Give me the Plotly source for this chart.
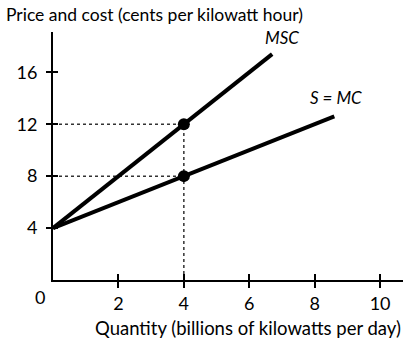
import plotly.graph_objects as go

# Data
msc_x = [0, 6.7]
msc_y = [4, 17.4]
mc_x = [0, 8.6]
mc_y = [4, 12.6]
eq_x = [4, 4]
eq_y = [12, 8]
x_ticks = [2, 4, 6, 8, 10]
y_ticks = [4, 8, 12, 16]

FONT = "Lato, 'Open Sans', sans-serif"
fig = go.Figure()

# dotted guides
fig.add_trace(go.Scatter(x=[0, eq_x[0]], y=[eq_y[0], eq_y[0]], mode="lines",
                         line=dict(color="#333", width=1.5, dash="dot"), hoverinfo="skip"))
fig.add_trace(go.Scatter(x=[0, eq_x[1]], y=[eq_y[1], eq_y[1]], mode="lines",
                         line=dict(color="#333", width=1.5, dash="dot"), hoverinfo="skip"))
fig.add_trace(go.Scatter(x=[eq_x[0], eq_x[0]], y=[0, eq_y[0]], mode="lines",
                         line=dict(color="#333", width=1.5, dash="dot"), hoverinfo="skip"))

# curves
fig.add_trace(go.Scatter(x=msc_x, y=msc_y, mode="lines", line=dict(color="black", width=4)))
fig.add_trace(go.Scatter(x=mc_x, y=mc_y, mode="lines", line=dict(color="black", width=4)))
fig.add_trace(go.Scatter(x=eq_x, y=eq_y, mode="markers", marker=dict(color="black", size=12)))

# invisible trace on overlay axes to draw crossing ticks
fig.add_trace(go.Scatter(x=[0], y=[0], xaxis="x2", yaxis="y2", mode="markers",
                         marker=dict(opacity=0), hoverinfo="skip"))

fig.update_layout(
    width=410, height=340,
    margin=dict(l=53, r=7, t=32, b=60),
    paper_bgcolor="white", plot_bgcolor="white",
    showlegend=False,
    font=dict(family=FONT, size=17, color="black"),
    xaxis=dict(range=[0, 10.7], tickvals=x_ticks, ticks="outside", ticklen=6, tickwidth=1.5,
               tickcolor="black", showgrid=False, zeroline=False, showline=True,
               linecolor="black", linewidth=2, tickfont=dict(size=18), fixedrange=True),
    yaxis=dict(range=[0, 19.1], tickvals=y_ticks, ticks="outside", ticklen=5, tickwidth=1.5,
               tickcolor="black", showgrid=False, zeroline=False, showline=True,
               linecolor="black", linewidth=2, tickfont=dict(size=18), fixedrange=True,
               ticklabelstandoff=5),
    xaxis2=dict(overlaying="x", matches="x", anchor="y2", tickvals=x_ticks, ticks="inside",
                ticklen=6, tickwidth=1.5, tickcolor="black", showticklabels=False,
                showgrid=False, zeroline=False, showline=False),
    yaxis2=dict(overlaying="y", matches="y", anchor="x2", tickvals=y_ticks, ticks="inside",
                ticklen=5, tickwidth=1.5, tickcolor="black", showticklabels=False,
                showgrid=False, zeroline=False, showline=False),
)

fig.add_annotation(text="Price and cost (cents per kilowatt hour)", xref="paper", yref="paper",
                   x=-49/350, y=1, yshift=18, xanchor="left", yanchor="middle",
                   showarrow=False, font=dict(size=17.5))
fig.add_annotation(text="Quantity (billions of kilowatts per day)", xref="paper", yref="paper",
                   x=1, y=0, yshift=-48, xanchor="right", yanchor="middle",
                   showarrow=False, font=dict(size=18.5))
fig.add_annotation(text="0", x=0, y=0, xshift=-13, yshift=-17, showarrow=False,
                   font=dict(size=18))
fig.add_annotation(text="<i>MSC</i>", x=msc_x[1], y=msc_y[1], xshift=10, yshift=17,
                   showarrow=False, font=dict(size=17))
fig.add_annotation(text="<i>S = MC</i>", x=mc_x[1], y=mc_y[1], xshift=2, yshift=19,
                   showarrow=False, font=dict(size=17))

fig.write_html("out.html")
